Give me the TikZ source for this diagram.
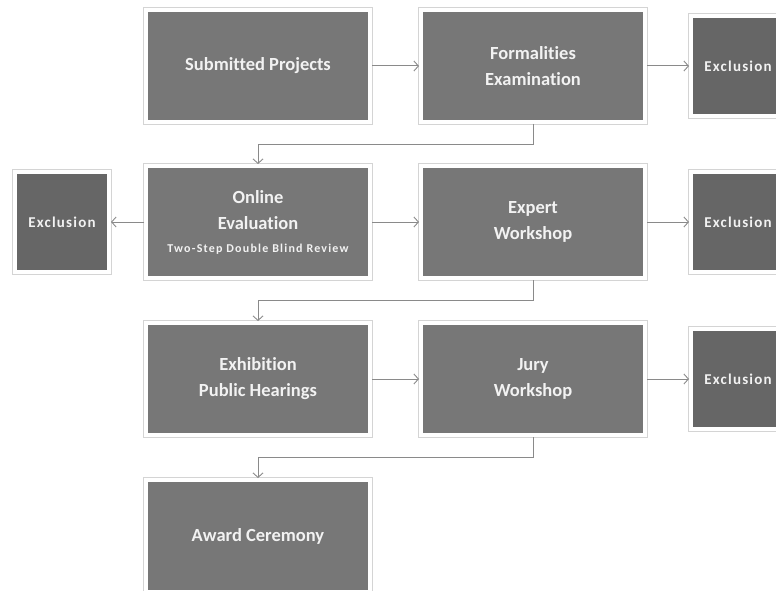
\documentclass[tikz,border=0pt]{standalone}
\usepackage{fontspec}
\setmainfont{Carlito}[Ligatures={NoCommon}]
\usetikzlibrary{arrows.meta,shadows}
\definecolor{boxgray}{HTML}{777777}
\definecolor{exgray}{HTML}{666666}
\definecolor{linegray}{HTML}{8A8A8A}
\definecolor{txt}{HTML}{F2F2F2}
\tikzset{
  mainbox/.style={fill=boxgray, draw=white, line width=4pt, minimum width=224pt, minimum height=112pt,
    inner sep=0pt, text=txt, align=center, font=\bfseries\fontsize{18.5}{26}\selectfont,
    preaction={draw=black!17, line width=5.2pt},
    drop shadow={opacity=0.3, shadow xshift=1pt, shadow yshift=-1.5pt, fill=black!45}},
  exbox/.style={mainbox, fill=exgray, minimum width=94pt, minimum height=100pt,
    font=\bfseries\fontsize{15}{20}\selectfont\addfontfeatures{LetterSpace=8}},
  arr/.style={draw=linegray, line width=1pt, -{Straight Barb[length=4.5pt,width=10pt,line width=0.9pt]}}
}
\begin{document}
\begin{tikzpicture}[x=1pt,y=-1pt]
\useasboundingbox (0,0) rectangle (776,591);
\clip (0,0) rectangle (776,591);
\fill[white] (0,0) rectangle (776,591);
% row 1
\node[mainbox] (sub) at (258,66) {Submitted Projects};
\node[mainbox] (form) at (533,66) {Formalities\\Examination};
\node[exbox] (ex1) at (738,66) {Exclusion};
% row 2
\node[exbox] (ex0) at (62,222) {Exclusion};
\node[mainbox] (online) at (258,222) {Online\\Evaluation\\[-3pt]{\fontsize{12}{14}\selectfont\addfontfeatures{LetterSpace=10}Two-Step Double Blind Review}};
\node[mainbox] (expert) at (533,222) {Expert\\Workshop};
\node[exbox] (ex2) at (738,222) {Exclusion};
% row 3
\node[mainbox] (exhib) at (258,379) {Exhibition\\Public Hearings};
\node[mainbox] (jury) at (533,379) {Jury\\Workshop};
\node[exbox] (ex3) at (738,379) {Exclusion};
% row 4
\node[mainbox] (award) at (258,536) {Award Ceremony};
% connectors
\draw[arr] (sub) -- (form);
\draw[arr] (form) -- (ex1);
\draw[arr] (form.south) -- ++(0,20) -| (online.north);
\draw[arr] (online) -- (ex0);
\draw[arr] (online) -- (expert);
\draw[arr] (expert) -- (ex2);
\draw[arr] (expert.south) -- ++(0,20) -| (exhib.north);
\draw[arr] (exhib) -- (jury);
\draw[arr] (jury) -- (ex3);
\draw[arr] (jury.south) -- ++(0,20) -| (award.north);
\end{tikzpicture}
\end{document}
